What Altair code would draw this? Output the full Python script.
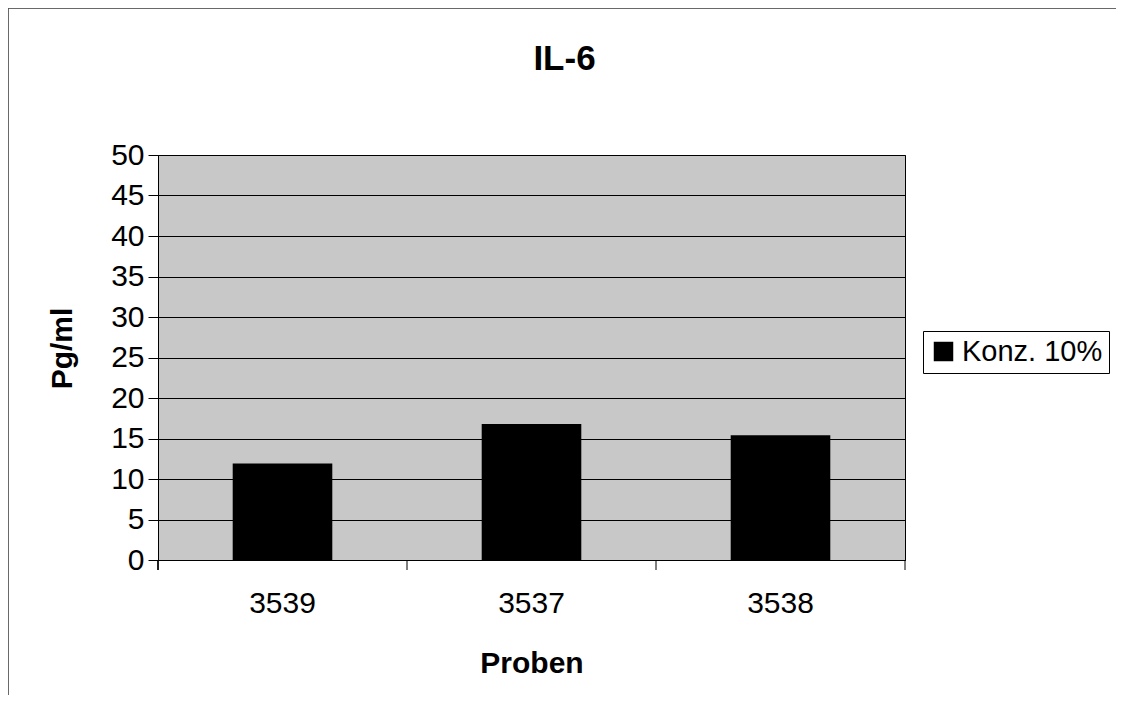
import altair as alt
import pandas as pd

proben = ["3539", "3537", "3538"]
werte = [11.9, 16.8, 15.4]
serie = ["Konz. 10%", "Konz. 10%", "Konz. 10%"]

df = pd.DataFrame({"Proben": proben, "Wert": werte, "Serie": serie})

FONT = "Liberation Sans"
W, H = 747, 405
xscale = alt.Scale(domain=proben, paddingInner=0.6, paddingOuter=0.3)
step = W / 3.0

bars = alt.Chart(df).mark_bar(color="black").encode(
    x=alt.X("Proben:N", sort=proben, scale=xscale,
            axis=alt.Axis(title="Proben", labelAngle=0, ticks=False,
                          labelPadding=28, titlePadding=30,
                          domainColor="black", grid=False)),
    y=alt.Y("Wert:Q", scale=alt.Scale(domain=[0, 50], nice=False),
            axis=alt.Axis(title="Pg/ml", values=list(range(0, 55, 5)),
                          tickSize=10, labelPadding=4,
                          titleX=-96, titleY=193, titleAlign="center",
                          titleBaseline="middle", titleAngle=270,
                          domainColor="black", tickColor="black",
                          grid=True, gridColor="black", gridWidth=1)),
    color=alt.Color("Serie:N", scale=alt.Scale(range=["black"]),
                    legend=alt.Legend(title=None, orient="none", legendX=765, legendY=176,
                                      symbolType="square", symbolSize=380,
                                      strokeColor="black", padding=6,
                                      labelFontSize=29, labelFont=FONT,
                                      labelColor="black", symbolStrokeWidth=0)),
)

# category separator ticks below the x axis (between the bars)
sep_ticks = alt.Chart(df).mark_rule(color="black", strokeWidth=1, xOffset=0.3 * step).encode(
    x=alt.X("Proben:N", sort=proben, scale=xscale, bandPosition=1),
    y=alt.value(H), y2=alt.value(H + 10),
)
first_tick = alt.Chart(df).mark_rule(color="black", strokeWidth=1).encode(
    x=alt.value(0), y=alt.value(H), y2=alt.value(H + 10),
)

frame = alt.Chart(df).mark_rect(fill=None, stroke="#555555", strokeWidth=1).encode(
    x=alt.value(-150), x2=alt.value(966), y=alt.value(-147), y2=alt.value(548)
)

chart = alt.layer(bars, sep_ticks, first_tick, frame).properties(
    width=W, height=H,
    title=alt.TitleParams("IL-6", fontSize=35, fontWeight="bold", font=FONT,
                          anchor="middle", frame="group", offset=-69, dx=33,
                          color="black"),
    padding={"left": 150, "top": 147, "right": 211, "bottom": 135},
    autosize=alt.AutoSizeParams(type="none"),
).configure_view(
    fill="#c8c8c8", stroke="black", strokeWidth=1
).configure_axis(
    labelFont=FONT, labelFontSize=30, labelColor="black",
    titleFont=FONT, titleFontSize=30, titleFontWeight="bold", titleColor="black",
)

chart.save("out.html", embed_options={"renderer": "svg", "actions": False})
